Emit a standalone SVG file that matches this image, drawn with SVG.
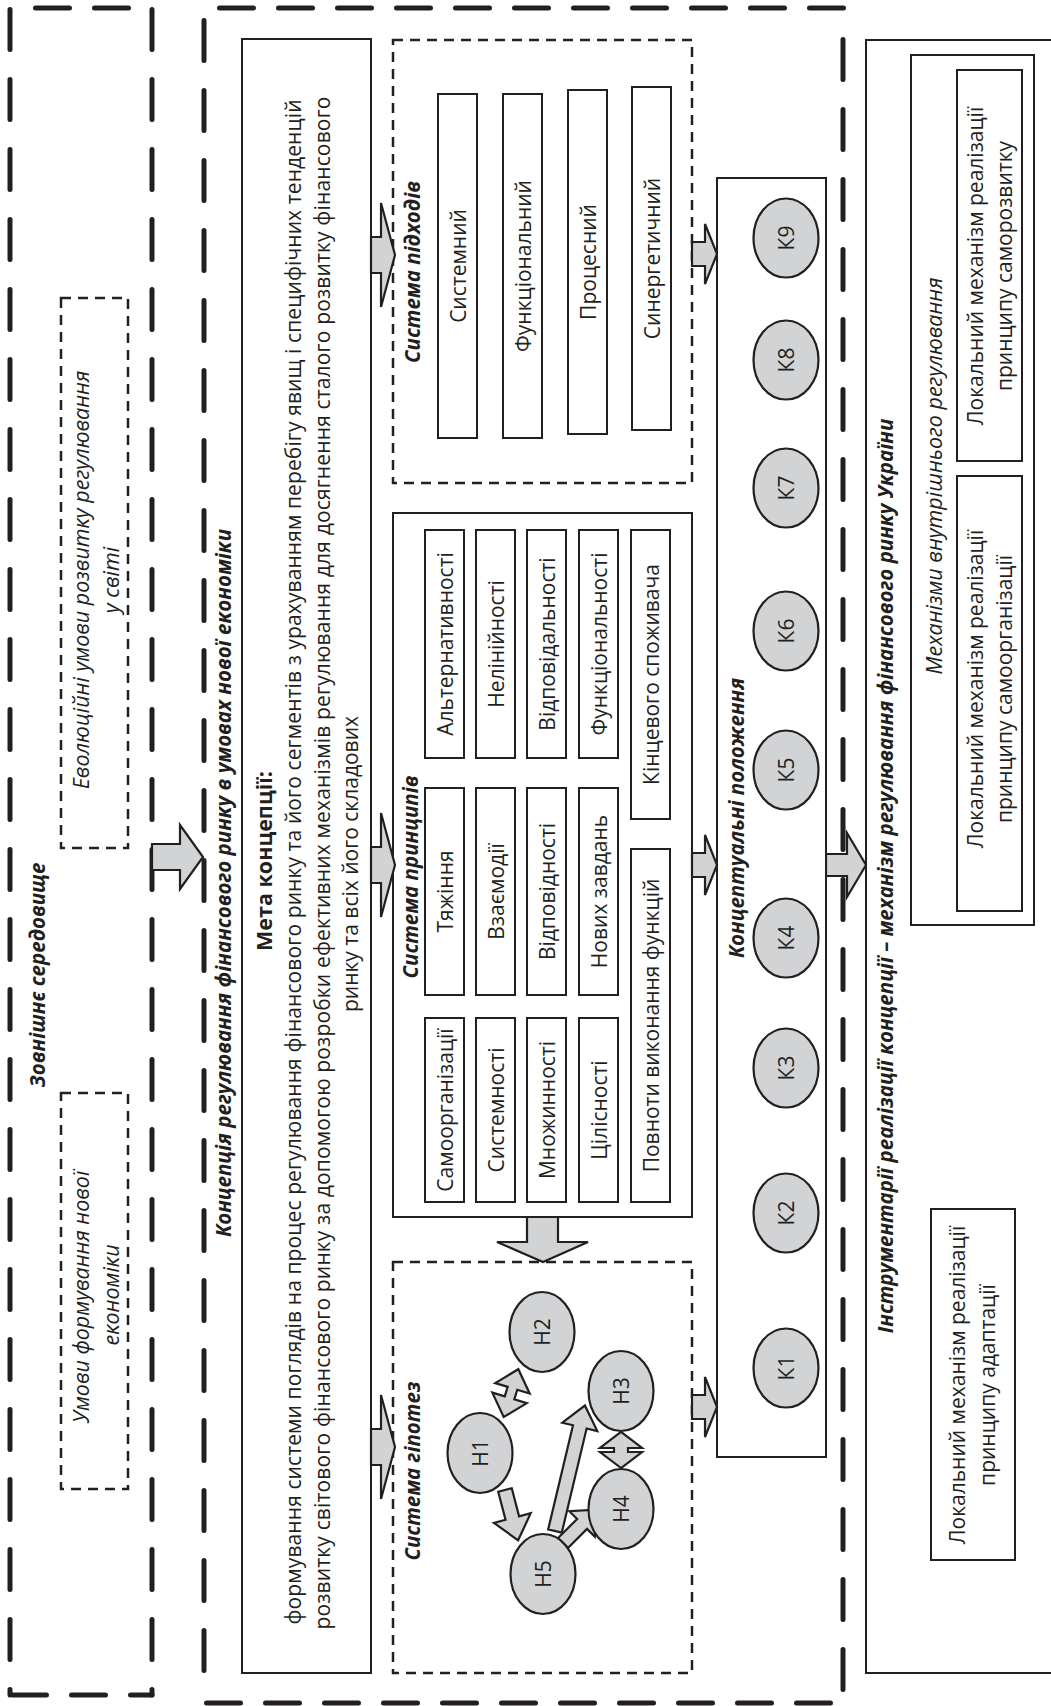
<svg xmlns="http://www.w3.org/2000/svg" width="1051" height="1706" viewBox="0 0 1051 1706">
<style>
.t{font-family:"Open Sans","Noto Sans","DejaVu Sans",sans-serif;font-size:21px;fill:#231f20;text-anchor:middle;dominant-baseline:central}
.bi{font-weight:bold;font-style:italic;font-size:20.5px}
.b{font-weight:bold;font-size:21.5px}
.it{font-style:italic;font-size:21.5px}
.box{fill:#fff;stroke:#231f20;stroke-width:2}
.open{fill:none;stroke:#231f20;stroke-width:2}
.dbox{fill:none;stroke:#231f20;stroke-width:2.5;stroke-dasharray:10 7}
.thk{fill:none;stroke:#231f20;stroke-width:5;stroke-linecap:round}
.hz{stroke-dasharray:34 25}
.vt{stroke-dasharray:40 30}
.ell{fill:#d1d3d4;stroke:#231f20;stroke-width:2.2}
.arr{fill:#d1d3d4;stroke:#231f20;stroke-width:2.2;stroke-linejoin:miter}
</style>
<rect width="1051" height="1706" fill="#fff"/>

<g id="frames">
  <line class="thk hz" x1="35.5" y1="8" x2="130" y2="8"/>
  <line class="thk vt" x1="10" y1="9.5" x2="10" y2="1695"/>
  <line class="thk vt" x1="152" y1="9.5" x2="152" y2="1695"/>
  <line class="thk hz" x1="12.5" y1="1695" x2="152" y2="1695"/>
  <line class="thk hz" x1="219.5" y1="8" x2="845" y2="8"/>
  <line class="thk vt" x1="204" y1="20.5" x2="204" y2="1700"/>
  <line class="thk vt" x1="843" y1="39.5" x2="843" y2="1700"/>
  <line class="thk hz" x1="206.5" y1="1703" x2="843" y2="1703"/>
</g>

<g id="external">
  <text class="t bi" transform="translate(37,975) rotate(-90)">Зовнішнє середовище</text>
</g>
<g id="evolution">
  <rect class="dbox" x="61" y="298" width="67" height="550"/>
  <text class="t it" transform="translate(80,580) rotate(-90)">Еволюційні умови розвитку регулювання</text>
  <text class="t it" transform="translate(110,580) rotate(-90)">у світі</text>
</g>
<g id="conditions">
  <rect class="dbox" x="61" y="1093" width="67" height="396"/>
  <text class="t it" transform="translate(80,1297) rotate(-90)">Умови формування нової</text>
  <text class="t it" transform="translate(110,1295) rotate(-90)">економіки</text>
</g>

<g id="concept-title">
  <text class="t bi" transform="translate(223,883) rotate(-90)">Концепція регулювання фінансового ринку в умовах нової економіки</text>
</g>

<g id="goal">
  <rect class="box" x="242" y="39" width="129" height="1634"/>
  <text class="t b" transform="translate(263,861) rotate(-90)">Мета концепції:</text>
  <text class="t" transform="translate(293,862) rotate(-90)" textLength="1525" lengthAdjust="spacing">формування системи поглядів на процес регулювання фінансового ринку та його сегментів з урахуванням перебігу явищ і специфічних тенденцій</text>
  <text class="t" transform="translate(322,863) rotate(-90)" textLength="1533" lengthAdjust="spacing">розвитку світового фінансового ринку за допомогою розробки ефективних механізмів регулювання для досягнення сталого розвитку фінансового</text>
  <text class="t" transform="translate(350,864) rotate(-90)">ринку та всіх його складових</text>
</g>

<g id="approaches">
  <rect class="dbox" x="393" y="40" width="299" height="443"/>
  <text class="t bi" transform="translate(412,272) rotate(-90)">Система підходів</text>
  <rect class="box" x="438" y="94" width="39" height="344"/>
  <text class="t" transform="translate(457.5,266) rotate(-90)">Системний</text>
  <rect class="box" x="503" y="94" width="39" height="344"/>
  <text class="t" transform="translate(522.5,266) rotate(-90)">Функціональний</text>
  <rect class="box" x="568" y="90" width="39" height="344"/>
  <text class="t" transform="translate(587.5,262) rotate(-90)">Процесний</text>
  <rect class="box" x="632" y="87" width="39" height="343"/>
  <text class="t" transform="translate(651.5,258.5) rotate(-90)">Синергетичний</text>
</g>

<g id="principles">
  <rect class="box" x="393" y="513" width="299" height="704"/>
  <text class="t bi" transform="translate(410,877) rotate(-90)">Система принципів</text>
  <rect class="box" x="425" y="530" width="39" height="228"/>
  <text class="t" transform="translate(444.5,644) rotate(-90)">Альтернативності</text>
  <rect class="box" x="476" y="530" width="39" height="228"/>
  <text class="t" transform="translate(495.5,644) rotate(-90)">Нелінійності</text>
  <rect class="box" x="527" y="530" width="39" height="228"/>
  <text class="t" transform="translate(546.5,644) rotate(-90)">Відповідальності</text>
  <rect class="box" x="579" y="530" width="39" height="228"/>
  <text class="t" transform="translate(598.5,644) rotate(-90)">Функціональності</text>
  <rect class="box" x="631" y="530" width="39" height="289"/>
  <text class="t" transform="translate(650.5,674.5) rotate(-90)">Кінцевого споживача</text>
  <rect class="box" x="425" y="788" width="39" height="207"/>
  <text class="t" transform="translate(444.5,891.5) rotate(-90)">Тяжіння</text>
  <rect class="box" x="476" y="788" width="39" height="207"/>
  <text class="t" transform="translate(495.5,891.5) rotate(-90)">Взаємодії</text>
  <rect class="box" x="527" y="788" width="39" height="207"/>
  <text class="t" transform="translate(546.5,891.5) rotate(-90)">Відповідності</text>
  <rect class="box" x="579" y="788" width="39" height="207"/>
  <text class="t" transform="translate(598.5,891.5) rotate(-90)">Нових завдань</text>
  <rect class="box" x="631" y="849" width="39" height="353"/>
  <text class="t" transform="translate(650.5,1025.5) rotate(-90)">Повноти виконання функцій</text>
  <rect class="box" x="425" y="1018" width="39" height="184"/>
  <text class="t" transform="translate(444.5,1110) rotate(-90)">Самоорганізації</text>
  <rect class="box" x="476" y="1018" width="39" height="184"/>
  <text class="t" transform="translate(495.5,1110) rotate(-90)">Системності</text>
  <rect class="box" x="527" y="1018" width="39" height="184"/>
  <text class="t" transform="translate(546.5,1110) rotate(-90)">Множинності</text>
  <rect class="box" x="579" y="1018" width="39" height="184"/>
  <text class="t" transform="translate(598.5,1110) rotate(-90)">Цілісності</text>
</g>

<g id="hypotheses">
  <rect class="dbox" x="393" y="1262" width="299" height="411"/>
  <text class="t bi" transform="translate(412,1471) rotate(-90)">Система гіпотез</text>
</g>

<g id="connectors">
  <polygon class="arr" points="152,844 180,844 180,825 203,857 180,889 180,870 152,870"/>
  <polygon class="arr" points="371,237 381,237 381,203 395,255 381,307 381,273 371,273"/>
  <polygon class="arr" points="371,847 381,847 381,813 395,865 381,917 381,883 371,883"/>
  <polygon class="arr" points="371,1429 381,1429 381,1395 395,1447 381,1499 381,1465 371,1465"/>
  <polygon class="arr" points="692,242 705,242 705,224 717,254 705,284 705,266 692,266"/>
  <polygon class="arr" points="692,853 705,853 705,835 717,865 705,895 705,877 692,877"/>
  <polygon class="arr" points="692,1395 705,1395 705,1377 717,1407 705,1437 705,1419 692,1419"/>
  <polygon class="arr" points="826,854 847,854 847,833 866,865 847,897 847,876 826,876"/>
  <polygon class="arr" points="527,1217 558,1217 558,1242 588,1242 543,1262 497,1242 527,1242"/>
  <polygon class="arr" transform="translate(505,1490) rotate(75.4)" points="0,-7 29,-7 29,-19 52,0 29,19 29,7 0,7"/>
  <polygon class="arr" transform="translate(555,1531) rotate(-76.6)" points="0,-7 107,-7 107,-18 129,0 107,18 107,7 0,7"/>
  <polygon class="arr" transform="translate(563,1543) rotate(-45)" points="0,-7 27,-7 27,-18 47,0 27,18 27,7 0,7"/>
  <polygon class="arr" transform="translate(503.7,1417) rotate(-73)" points="0,0 20,-18 20,-5 30,-5 30,-18 50,0 30,18 30,5 20,5 20,18"/>
  <polygon class="arr" transform="translate(621,1468) rotate(-90)" points="0,0 16,-21 16,-7 20,-7 20,-21 36,0 20,21 20,7 16,7 16,21"/>
</g>

<g id="H1"><ellipse class="ell" cx="480" cy="1453" rx="32.5" ry="40"/><text class="t" transform="translate(480,1453) rotate(-90)">H1</text></g>
<g id="H2"><ellipse class="ell" cx="542" cy="1332" rx="32.5" ry="40"/><text class="t" transform="translate(542,1332) rotate(-90)">H2</text></g>
<g id="H3"><ellipse class="ell" cx="621" cy="1391" rx="32.5" ry="40"/><text class="t" transform="translate(621,1391) rotate(-90)">H3</text></g>
<g id="H4"><ellipse class="ell" cx="621" cy="1509" rx="32.5" ry="40"/><text class="t" transform="translate(621,1509) rotate(-90)">H4</text></g>
<g id="H5"><ellipse class="ell" cx="543" cy="1574" rx="32.5" ry="40"/><text class="t" transform="translate(543,1574) rotate(-90)">H5</text></g>

<g id="concepts">
  <rect class="box" x="717" y="178" width="109" height="1279"/>
  <text class="t bi" transform="translate(736,818) rotate(-90)">Концептуальні положення</text>
</g>
<g id="K9"><ellipse class="ell" cx="786" cy="238" rx="32.5" ry="39.5"/><text class="t" transform="translate(786,238) rotate(-90)">К9</text></g>
<g id="K8"><ellipse class="ell" cx="786" cy="360" rx="32.5" ry="39.5"/><text class="t" transform="translate(786,360) rotate(-90)">К8</text></g>
<g id="K7"><ellipse class="ell" cx="786" cy="488" rx="32.5" ry="39.5"/><text class="t" transform="translate(786,488) rotate(-90)">К7</text></g>
<g id="K6"><ellipse class="ell" cx="786" cy="631" rx="32.5" ry="39.5"/><text class="t" transform="translate(786,631) rotate(-90)">К6</text></g>
<g id="K5"><ellipse class="ell" cx="786" cy="770" rx="32.5" ry="39.5"/><text class="t" transform="translate(786,770) rotate(-90)">К5</text></g>
<g id="K4"><ellipse class="ell" cx="786" cy="938" rx="32.5" ry="39.5"/><text class="t" transform="translate(786,938) rotate(-90)">К4</text></g>
<g id="K3"><ellipse class="ell" cx="786" cy="1068" rx="32.5" ry="39.5"/><text class="t" transform="translate(786,1068) rotate(-90)">К3</text></g>
<g id="K2"><ellipse class="ell" cx="786" cy="1213" rx="32.5" ry="39.5"/><text class="t" transform="translate(786,1213) rotate(-90)">К2</text></g>
<g id="K1"><ellipse class="ell" cx="786" cy="1368" rx="32.5" ry="39.5"/><text class="t" transform="translate(786,1368) rotate(-90)">К1</text></g>

<g id="instruments">
  <path class="open" d="M1052,40 H866 V1673 H1052"/>
  <text class="t bi" transform="translate(885,876) rotate(-90)">Інструментарії реалізації концепції – механізм регулювання фінансового ринку України</text>
</g>
<g id="internal">
  <rect class="box" x="911" y="55" width="123" height="870"/>
  <text class="t it" transform="translate(933,476) rotate(-90)">Механізми внутрішнього регулювання</text>
</g>
<g id="self-development">
  <rect class="box" x="957" y="70" width="65" height="391"/>
  <text class="t" transform="translate(975,266) rotate(-90)">Локальний механізм реалізації</text>
  <text class="t" transform="translate(1004,266) rotate(-90)">принципу саморозвитку</text>
</g>
<g id="self-organization">
  <rect class="box" x="957" y="476" width="65" height="435"/>
  <text class="t" transform="translate(975,689) rotate(-90)">Локальний механізм реалізації</text>
  <text class="t" transform="translate(1004,689) rotate(-90)">принципу самоорганізації</text>
</g>
<g id="adaptation">
  <rect class="box" x="931" y="1209" width="84" height="351"/>
  <text class="t" transform="translate(957,1385) rotate(-90)">Локальний механізм реалізації</text>
  <text class="t" transform="translate(987,1385) rotate(-90)">принципу адаптації</text>
</g>
</svg>
